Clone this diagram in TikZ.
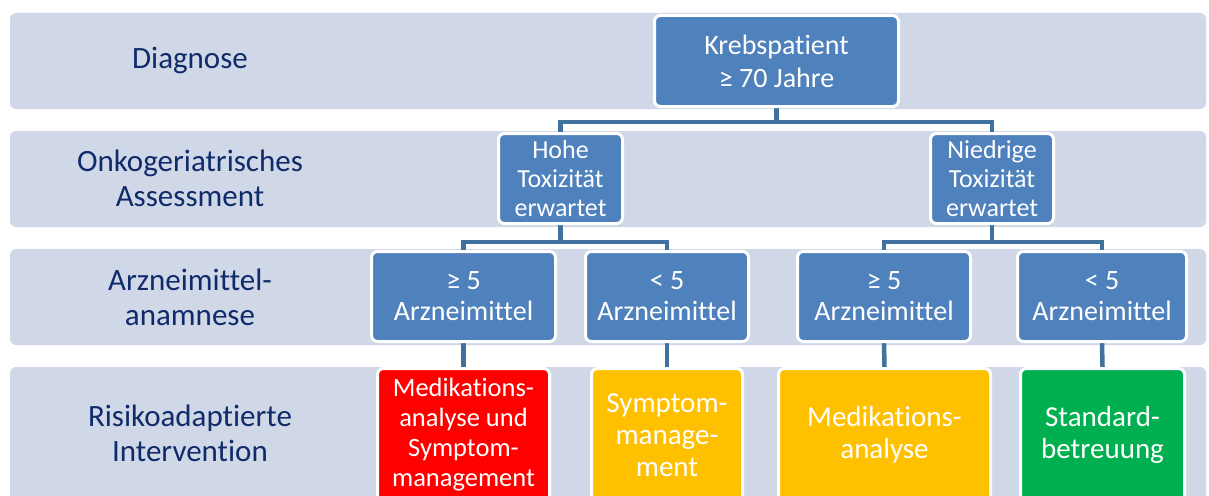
\documentclass[tikz,border=0pt]{standalone}
\usepackage{fontspec}
\setmainfont{Carlito}[Ligatures=NoCommon]
\usetikzlibrary{positioning, backgrounds}

\definecolor{bandgray}{HTML}{D0D8E8}
\definecolor{boxblue}{HTML}{4F81BD}
\definecolor{linkblue}{HTML}{41719C}
\definecolor{labelnavy}{HTML}{102B6A}
\definecolor{riskred}{HTML}{FF0000}
\definecolor{riskyellow}{HTML}{FFC000}
\definecolor{riskgreen}{HTML}{00B050}

\begin{document}
\begin{tikzpicture}[
        x=1pt, y=-1pt,
        band/.style={fill=bandgray, rounded corners=6pt},
        rowlabel/.style={text=labelnavy, align=center, font=\fontsize{31}{35}\selectfont},
        bluebox/.style={draw=white, line width=3pt, fill=boxblue, rounded corners=6pt, text=white, align=center, inner sep=0pt},
        link/.style={draw=linkblue, line width=4.5pt}
        ]
        \useasboundingbox (0,0) rectangle (1209,495);

        \node[rowlabel] (diagnose) at (190,61) {Diagnose};
        \node[rowlabel] (assessment) at (190,178) {Onkogeriatrisches\\Assessment};
        \node[rowlabel] (anamnese) at (190,297) {Arzneimittel-\\anamnese};
        \node[rowlabel] (intervention) at (190,433) {Risikoadaptierte\\Intervention};

        \node[bluebox, minimum width=244pt, minimum height=91pt, font=\fontsize{28}{33}\selectfont] (patient) at (776.5,61) {Krebspatient\\≥ 70 Jahre};

        \node[bluebox, minimum width=124pt, minimum height=90pt, font=\fontsize{26}{29}\selectfont] (hoch) at (560.5,178.5) {Hohe\\Toxizität\\erwartet};
        \node[bluebox, minimum width=123pt, minimum height=90pt, font=\fontsize{26}{29}\selectfont] (niedrig) at (992,178.5) {Niedrige\\Toxizität\\erwartet};

        \node[bluebox, minimum width=184pt, minimum height=90pt, font=\fontsize{28}{31}\selectfont] (hochviel) at (463.5,296.5) {≥ 5\\Arzneimittel};
        \node[bluebox, minimum width=163pt, minimum height=90pt, font=\fontsize{28}{31}\selectfont] (hochwenig) at (667,296.5) {< 5\\Arzneimittel};
        \node[bluebox, minimum width=173pt, minimum height=90pt, font=\fontsize{28}{31}\selectfont] (niedrigviel) at (884,296.5) {≥ 5\\Arzneimittel};
        \node[bluebox, minimum width=169pt, minimum height=90pt, font=\fontsize{28}{31}\selectfont] (niedrigwenig) at (1102,296.5) {< 5\\Arzneimittel};

        \node[bluebox, fill=riskred, minimum width=172pt, minimum height=133pt, font=\fontsize{26.5}{30}\selectfont] (medsymptom) at (463.5,435) {Medikations-\\analyse und\\Symptom-\\management};
        \node[bluebox, fill=riskyellow, minimum width=151pt, minimum height=133pt, font=\fontsize{29}{32}\selectfont] (symptom) at (667,435) {Symptom-\\manage-\\ment};
        \node[bluebox, fill=riskyellow, minimum width=212pt, minimum height=133pt, font=\fontsize{29}{32}\selectfont] (medanalyse) at (884.5,435) {Medikations-\\analyse};
        \node[bluebox, fill=riskgreen, minimum width=164pt, minimum height=133pt, font=\fontsize{29}{32}\selectfont] (standard) at (1102.5,435) {Standard-\\betreuung};

        \begin{scope}[on background layer]
            % Zeilen
            \fill[band] (10,13) rectangle (1206,109);
            \fill[band] (10,131) rectangle (1206,227);
            \fill[band] (10,249) rectangle (1206,345);
            \fill[band] (10,367) rectangle (1206,510);

            \draw[link] (patient.south) -- ++(0,14) -| (hoch.north);
            \draw[link] (patient.south) -- ++(0,14) -| (niedrig.north);
            \draw[link] (hoch.south) -- ++(0,17) -| (hochviel.north);
            \draw[link] (hoch.south) -- ++(0,17) -| (hochwenig.north);
            \draw[link] (niedrig.south) -- ++(0,17) -| (niedrigviel.north);
            \draw[link] (niedrig.south) -- ++(0,17) -| (niedrigwenig.north);
            \draw[link] (hochviel.south) -- (medsymptom.north);
            \draw[link] (hochwenig.south) -- (symptom.north);
            \draw[link] (niedrigviel.south) -- (medanalyse.north);
            \draw[link] (niedrigwenig.south) -- (standard.north);
        \end{scope}
    \end{tikzpicture}
\end{document}
